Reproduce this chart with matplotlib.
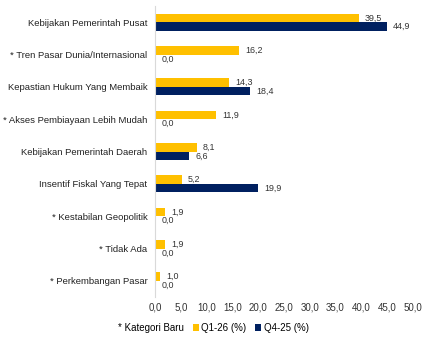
"""Horizontal bar chart: faktor pendorong, Q1-26 vs Q4-25."""

import matplotlib.pyplot as plt
import numpy as np
from matplotlib.patches import Patch

CATEGORIES = [
    "Kebijakan Pemerintah Pusat",
    "* Tren Pasar Dunia/Internasional",
    "Kepastian Hukum Yang Membaik",
    "* Akses Pembiayaan Lebih Mudah",
    "Kebijakan Pemerintah Daerah",
    "Insentif Fiskal Yang Tepat",
    "* Kestabilan Geopolitik",
    "* Tidak Ada",
    "* Perkembangan Pasar",
]
Q1_26 = [39.5, 16.2, 14.3, 11.9, 8.1, 5.2, 1.9, 1.9, 1.0]
Q4_25 = [44.9, 0.0, 18.4, 0.0, 6.6, 19.9, 0.0, 0.0, 0.0]
XTICKS = [0, 5, 10, 15, 20, 25, 30, 35, 40, 45, 50]

YELLOW = "#FFC000"
NAVY = "#002060"

plt.rcParams.update({"font.family": "Liberation Sans", "font.size": 7})


def fmt(v):
    return f"{v:.1f}".replace(".", ",")


fig = plt.figure(figsize=(4.27, 3.38), dpi=100)
ax = fig.add_axes([0.363, 0.121, 0.604, 0.861])

y = np.arange(len(CATEGORIES))
h = 0.265
ax.barh(y - h / 2, Q1_26, height=h, color=YELLOW, label="Q1-26 (%)")
ax.barh(y + h / 2, Q4_25, height=h, color=NAVY, label="Q4-25 (%)")

for yi, v in zip(y, Q1_26):
    ax.annotate(fmt(v), (v, yi - h / 2), xytext=(4.5, 0), textcoords="offset points",
                va="center", ha="left", fontsize=6.4, color="#333333")
for yi, v in zip(y, Q4_25):
    ax.annotate(fmt(v), (v, yi + h / 2), xytext=(4.5, 0), textcoords="offset points",
                va="center", ha="left", fontsize=6.4, color="#333333")

ax.set_xlim(0, 50)
ax.set_ylim(len(CATEGORIES) - 0.5, -0.5)
ax.set_xticks(XTICKS)
ax.set_xticklabels([fmt(t) for t in XTICKS], fontsize=7, color="#333333")
ax.set_yticks(y)
ax.set_yticklabels(CATEGORIES, fontsize=6.8, color="#222222")
ax.tick_params(axis="y", length=0, pad=5.5)
ax.tick_params(axis="x", length=0, pad=4)
for side in ["top", "right", "bottom"]:
    ax.spines[side].set_visible(False)
ax.spines["left"].set_color("#D9D9D9")
ax.spines["left"].set_linewidth(0.8)

handles = [Patch(facecolor="none", edgecolor="none"),
           Patch(facecolor=YELLOW), Patch(facecolor=NAVY)]
labels = ["* Kategori Baru", "Q1-26 (%)", "Q4-25 (%)"]
fig.legend(handles, labels, loc="center", bbox_to_anchor=(0.49, 0.03), ncol=3,
           frameon=False, fontsize=7, handlelength=0.6, handleheight=0.6,
           handletextpad=0.3, columnspacing=0.9)

fig.savefig("out.png", dpi=100)
